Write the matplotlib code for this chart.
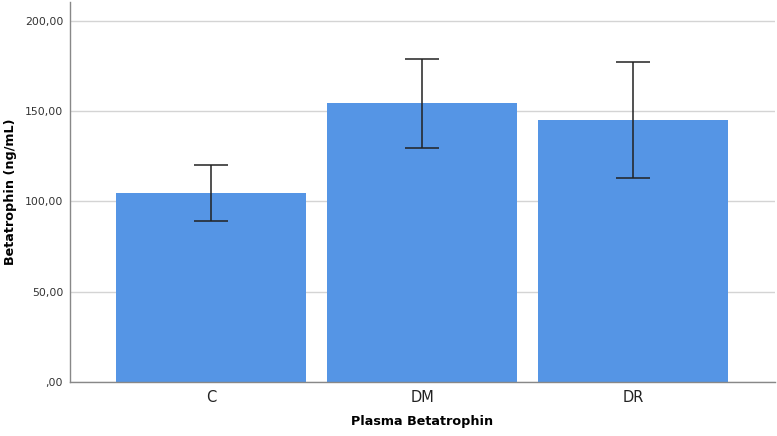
import matplotlib.pyplot as plt
from matplotlib.ticker import FuncFormatter

# Data
groups = ['C', 'DM', 'DR']
means = [104.6, 154.4, 145.0]
err_low = [89.3, 129.5, 113.1]
err_high = [120.1, 178.8, 177.3]

plt.rcParams['font.family'] = ['DejaVu Sans']

fig = plt.figure(figsize=(7.77, 4.36), dpi=100)
ax = fig.add_axes([0.0901, 0.124, 0.907, 0.871])

x = list(range(len(groups)))
yerr = [[m - lo for m, lo in zip(means, err_low)],
        [hi - m for m, hi in zip(means, err_high)]]

ax.bar(x, means, width=0.9, color='#5595e5', zorder=2)
ax.errorbar(x, means, yerr=yerr, fmt='none', ecolor='#222222',
            elinewidth=1.1, capsize=12.5, capthick=1.1, zorder=3)

ax.set_xlim(-0.668, 2.67)
ax.set_ylim(0, 210.3)
ax.set_yticks([0, 50, 100, 150, 200])


def fmt(v, pos):
    s = '%.2f' % v
    s = s.replace('.', ',')
    if s.startswith('0,'):
        s = s[1:]
    return s


ax.yaxis.set_major_formatter(FuncFormatter(fmt))
ax.yaxis.grid(True, color='#d4d4d4', linewidth=1, zorder=0)
ax.set_axisbelow(True)

ax.set_xticks(x)
ax.set_xticklabels(groups, fontsize=10.5, color='#222222')
ax.tick_params(axis='y', length=0, labelsize=7.8, labelcolor='#333333', pad=5)
ax.tick_params(axis='x', length=0, pad=6)

for side in ['top', 'right']:
    ax.spines[side].set_visible(False)
for side in ['left', 'bottom']:
    ax.spines[side].set_color('#888888')
    ax.spines[side].set_linewidth(1)

ax.set_ylabel('Betatrophin (ng/mL)', fontsize=9.2, fontweight='bold', va='center')
ax.yaxis.set_label_coords(-0.085, 0.5)
ax.set_xlabel('Plasma Betatrophin', fontsize=9.2, fontweight='bold', va='center')
ax.xaxis.set_label_coords(0.5, -0.105)

plt.savefig('out.png', dpi=100)
